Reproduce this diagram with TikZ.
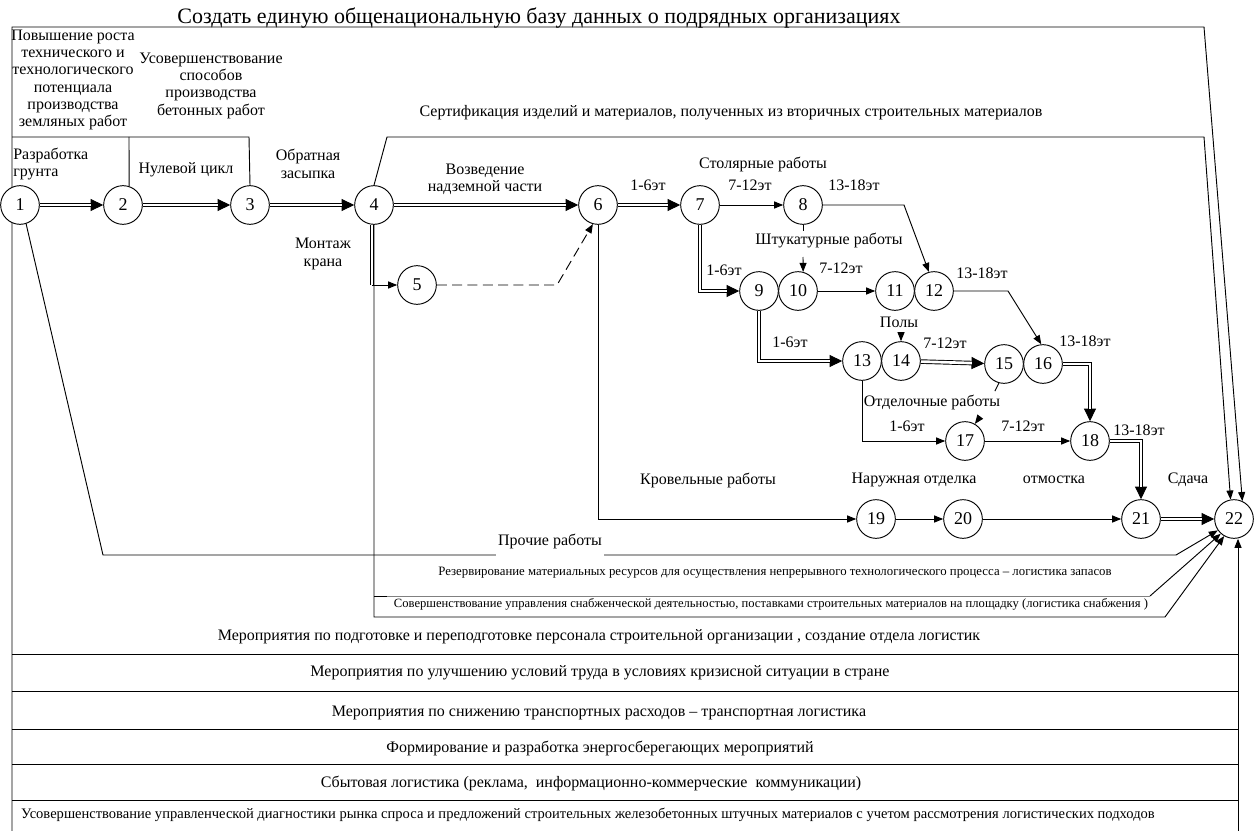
\documentclass[tikz,border=0pt]{standalone}
\usepackage{fontspec}
\setmainfont{Liberation Serif}
\usetikzlibrary{arrows.meta,backgrounds}
\newcommand\dblarr[1]{\draw[ln,-{Triangle[length=9.5pt,width=9pt]}] #1; \draw[dl,shorten >=9.3pt] #1;}
\begin{document}
\begin{tikzpicture}[x=0.75pt,y=-0.75pt,
  every node/.style={inner sep=0pt},
  ev/.style={circle,draw,fill=white,minimum size=29pt,line width=0.7pt,font=\fontsize{13.5}{13.5}\selectfont},
  lbl/.style={font=\fontsize{12}{13}\selectfont,align=center},
  sml/.style={font=\fontsize{9.6}{11}\selectfont},
  smlc/.style={font=\fontsize{9.45}{11}\selectfont},
  smlb/.style={font=\fontsize{10.9}{12}\selectfont},
  ttl/.style={font=\fontsize{16.5}{18}\selectfont},
  ln/.style={line width=0.7pt},
  sa/.style={ln,-{Triangle[length=6.75pt,width=5.25pt]}},
  dl/.style={line width=0.7pt,double,double distance=2pt},
]
\useasboundingbox (0,0) rectangle (1256,831);
% events
\node[ev] (n1) at (20,205) {1};
\node[ev] (n2) at (123,205) {2};
\node[ev] (n3) at (250,205) {3};
\node[ev] (n4) at (374,205) {4};
\node[ev] (n5) at (417,285) {5};
\node[ev] (n6) at (598,205) {6};
\node[ev] (n7) at (700,205) {7};
\node[ev] (n8) at (803,205) {8};
\node[ev] (n9) at (759,291) {9};
\node[ev] (n10) at (798,291) {10};
\node[ev] (n11) at (895,291) {11};
\node[ev] (n12) at (934,291) {12};
\node[ev] (n13) at (862,361) {13};
\node[ev] (n14) at (901,361) {14};
\node[ev] (n15) at (1004,364) {15};
\node[ev] (n16) at (1043,364) {16};
\node[ev] (n17) at (965,441) {17};
\node[ev] (n18) at (1090,441) {18};
\node[ev] (n19) at (876,519) {19};
\node[ev] (n20) at (963,519) {20};
\node[ev] (n21) at (1141,519) {21};
\node[ev] (n22) at (1234,519) {22};
% free ends
\coordinate (fBL) at (12,831);
\coordinate (fBR) at (1238,831);
\coordinate (fB1) at (12,137);
\coordinate (fB2) at (249,137);
\coordinate (fT1) at (374,596);
\coordinate (fSt) at (803,257);
\coordinate (fPo) at (901,333);
\coordinate (fOt) at (980,417);
\begin{scope}[on background layer]
  % outer frame and top arrow
  \draw[sa] (fBL) -- (12,27) -- (1204,27) -- (n22.65);
  % block separators
  \draw[ln] (fB1) -- (fB2) -- (n3.north);
  \draw[ln] (129,137) -- (n2.72);
  % certification
  \draw[sa] (n4.north) -- (387,137) -- (1204,137) -- (n22.100);
  % other works
  \draw[sa] (n1.-72) -- (103,555) -- (1176,555) -- (n22.215);
  % vertical from 4 and supply box
  \draw[sa] (n4.south) -- (374,617) -- (1165,617) -- (n22.240);
  \draw[ln] (fT1) -- ++(13,0);
  \draw[line width=0.3pt,gray] (387,596) -- (1150,596);
  \draw[sa] (1150,596) -- (n22.228);
  % bottom
  \draw[sa] (fBR) -- (fBR |- n22.south);
  \foreach \yy in {654,691,729,764,800} \draw[ln] (12,\yy) -- (1238,\yy);
  % main chain
  \dblarr{(n1) -- (n2)}
  \dblarr{(n2) -- (n3)}
  \dblarr{(n3) -- (n4)}
  \dblarr{(n4) -- (n6)}
  \dblarr{(n6) -- (n7)}
  \draw[dl] ([xshift=-1.5pt]n4.south) -- ([xshift=-1.5pt]n4.south |- n5);
  \draw[sa] ([xshift=-1.5pt]n4.south |- n5) -- (n5);
  \draw[sa,dash pattern=on 7.5pt off 4pt] (n5) -- (557,285) -- (n6.-105);
  \draw[sa] (n7) -- (n8);
  \dblarr{(n7) |- (n9)}
  \draw[ln] (n8.south) -- ++(0,6);
  \draw[sa] (fSt) -- (n10.75);
  \draw[sa] (n10) -- (n11);
  \draw[sa] (n8) -- (904,205) -- (n12.105);
  \draw[sa] (n12) -- (1008,291) -- (n16.95);
  \dblarr{(n9) |- (n13)}
  \draw[sa] (fPo) -- (n14.north);
  \dblarr{(n14) -- (n15)}
  \dblarr{(n16) -| (n18)}
  \draw[ln] (n15.-105) -- ++(-4,8);
  \draw[sa] (fOt) -- (n17.60);
  \draw[sa] (n13) |- (n17);
  \draw[sa] (n17) -- (n18);
  \dblarr{(n18) -| (n21)}
  \draw[sa] (n6) |- (n19);
  \draw[sa] (n19) -- (n20);
  \draw[sa] (n20) -- (n21);
  \dblarr{(n21) -- (n22)}
\end{scope}
% labels
\node[ttl,anchor=base] (t0) at (539,24) {Создать единую общенациональную базу данных о подрядных организациях};
\node[lbl] (t1) at (73,80) {Повышение роста\\технического и\\технологического\\потенциала\\производства\\земляных работ};
\node[lbl] (t2) at (211,85.5) {Усовершенствование\\способов\\производства\\бетонных работ};
\node[lbl,align=left,anchor=west] (t3) at (13,164) {Разработка\\грунта};
\node[lbl] (t4) at (186,170) {Нулевой цикл};
\node[lbl] (t5) at (308,164) {Обратная\\засыпка};
\node[lbl] (t6) at (485,179) {Возведение\\надземной части};
\node[lbl] (t7) at (323,254) {Монтаж\\крана};
\node[lbl] (t8) at (731,113) {Сертификация изделий и материалов, полученных из вторичных строительных материалов};
\node[lbl] (a1) at (648,185) {1-6эт};
\node[lbl] (a2) at (763,164) {Столярные работы};
\node[lbl] (a3) at (750,185) {7-12эт};
\node[lbl] (a4) at (854,185) {13-18эт};
\node[lbl] (b1) at (829,240) {Штукатурные работы};
\node[lbl] (b2) at (724,270) {1-6эт};
\node[lbl] (b3) at (841,268) {7-12эт};
\node[lbl] (b4) at (982,273) {13-18эт};
\node[lbl] (c1) at (899,322) {Полы};
\node[lbl] (c2) at (790,342) {1-6эт};
\node[lbl] (c3) at (945,343) {7-12эт};
\node[lbl] (c4) at (1085,341) {13-18эт};
\node[lbl] (d1) at (932,402) {Отделочные работы};
\node[lbl] (d2) at (907,426) {1-6эт};
\node[lbl] (d3) at (1023,426) {7-12эт};
\node[lbl] (d4) at (1139,430) {13-18эт};
\node[lbl] (e1) at (708,480) {Кровельные работы};
\node[lbl] (e2) at (914,480) {Наружная отделка};
\node[lbl] (e3) at (1054,480) {отмостка};
\node[lbl] (e4) at (1188,480) {Сдача};
\node[lbl,fill=white,anchor=base,text depth=8.2pt,inner xsep=2pt] (p0) at (550,545) {Прочие работы};
\node[sml] (p1) at (775,573) {Резервирование материальных ресурсов для осуществления непрерывного технологического процесса – логистика запасов};
\node[smlc] (p2) at (771,604) {Совершенствование управления снабженческой деятельностью, поставками строительных материалов на площадку (логистика снабжения )};
\node[lbl] (r1) at (599,637) {Мероприятия по подготовке и переподготовке персонала строительной организации , создание отдела логистик};
\node[lbl] (r2) at (600,673) {Мероприятия по улучшению условий труда в условиях кризисной ситуации в стране};
\node[lbl] (r3) at (599,713) {Мероприятия по снижению транспортных расходов – транспортная логистика};
\node[lbl] (r4) at (600,748) {Формирование и разработка энергосберегающих мероприятий};
\node[lbl] (r5) at (591,783) {Сбытовая логистика (реклама,\ \ информационно-коммерческие\ \ коммуникации)};
\node[smlb] (r6) at (588,815) {Усовершенствование управленческой диагностики рынка спроса и предложений строительных железобетонных штучных материалов с учетом рассмотрения логистических подходов};
\end{tikzpicture}
\end{document}
